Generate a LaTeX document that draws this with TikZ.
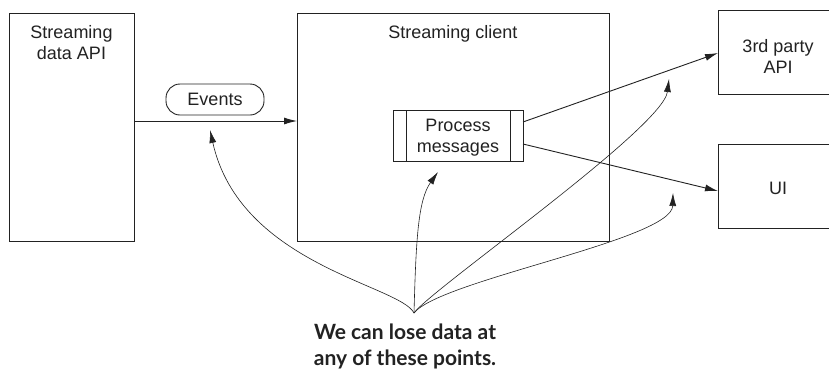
\documentclass[tikz,border=0pt]{standalone}
\usepackage{fontspec}
\setmainfont{Liberation Sans}
\newfontfamily\notefont{Lato}
\usetikzlibrary{arrows.meta}
\definecolor{ink}{HTML}{222222}
\begin{document}
\begin{tikzpicture}[x=1pt,y=-1pt,
  every node/.style={inner sep=0pt,outer sep=0pt},
  box/.style={draw=ink,line width=0.9pt,rectangle},
  lbl/.style={font=\fontsize{18pt}{21pt}\selectfont,text=ink,align=center},
  conn/.style={draw=ink,line width=0.9pt,-{Latex[length=13pt,width=7pt]}},
  note/.style={draw=ink,line width=0.6pt,-{Latex[length=13pt,width=7pt]}}]
\clip (0,0) rectangle (829,370);
\fill[white] (0,0) rectangle (829,370);
% boxes
\node[box,minimum width=125pt,minimum height=228pt] (api) at (71.5,127) {};
\node[lbl,anchor=north] (apil) at (71.5,25) {Streaming\\data API};
\node[box,minimum width=312pt,minimum height=228pt] (client) at (453,127) {};
\node[lbl,anchor=north] (clientl) at (453,25) {Streaming client};
\node[box,minimum width=130pt,minimum height=51pt] (pm) at (458,135.5) {};
\draw[ink,line width=0.9pt] ([xshift=13pt]pm.north west) -- ([xshift=13pt]pm.south west);
\draw[ink,line width=0.9pt] ([xshift=-13pt]pm.north east) -- ([xshift=-13pt]pm.south east);
\node[lbl] (pml) at (458,138) {Process\\messages};
\node[box,minimum width=120pt,minimum height=84pt] (tp) at (778,52) {};
\node[lbl] (tpl) at (778,56) {3rd party\\API};
\node[box,minimum width=120pt,minimum height=84pt] (ui) at (778,186) {};
\node[lbl] (uil) at (778,188) {UI};
\node[box,rounded corners=14pt,minimum width=98pt,minimum height=31pt,lbl] (ev) at (215,99.5) {Events};
% connectors
\draw[conn] ([yshift=6pt]api.east) -- ([yshift=6pt]client.west);
\draw[conn] ([yshift=13.5pt]pm.east) -- ([yshift=-1pt]tp.west);
\draw[conn] ([yshift=-8.5pt]pm.east) -- ([yshift=-5pt]ui.west);
% loss points
\coordinate (src) at (414,313);
\coordinate (t1) at (210,130);
\coordinate (t2) at (438,172);
\coordinate (t3) at (669,79);
\coordinate (t4) at (673,193);
\draw[note] (src) .. controls (400,285) and (240,265) .. (t1);
\draw[note] (src) .. controls (416,240) and (418,200) .. (t2);
\draw[note] (src) .. controls (430,290) and (663,128) .. (t3);
\draw[note] (src) .. controls (440,280) and (672,240) .. (t4);
\node[font=\notefont\bfseries\fontsize{21pt}{26pt}\selectfont,text=ink,align=center,anchor=base] (txt) at (405,365) {We can lose data at\\any of these points.};
\end{tikzpicture}
\end{document}
